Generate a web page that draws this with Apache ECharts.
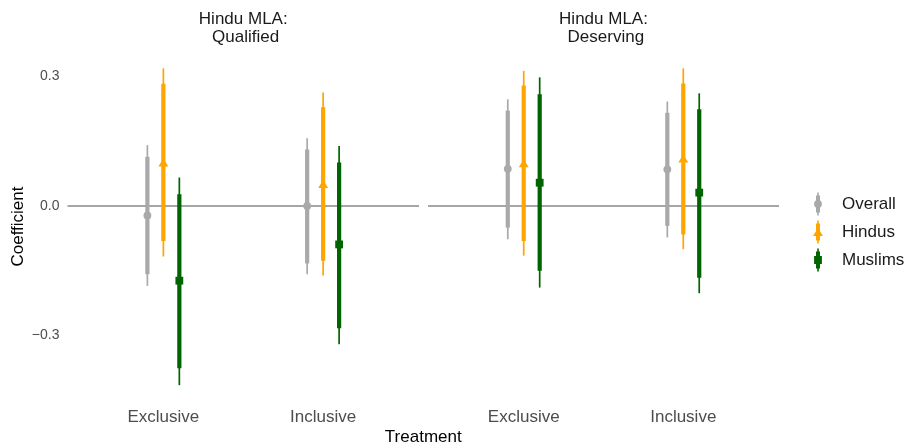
<!DOCTYPE html>
<html>
<head>
<meta charset="utf-8">
<script src="https://cdn.jsdelivr.net/npm/echarts@6/dist/echarts.min.js"></script>
<style>
  html, body { margin: 0; padding: 0; background: #ffffff; }
  #chart { width: 907px; height: 446px; }
</style>
</head>
<body>
<div id="chart"></div>
<script>
// Treatment categories on each panel's x axis
const categories = ['Exclusive', 'Inclusive'];
// Facet strip labels
const panelTitles = ['Hindu MLA:\n Qualified', 'Hindu MLA:\n Deserving'];
const seriesNames = ['Overall', 'Hindus', 'Muslims'];

// Each row: [estimate, low90, high90, low95, high95]
// Rows: Qualified/Exclusive, Qualified/Inclusive, Deserving/Exclusive, Deserving/Inclusive
const overall = [
  [-0.022, -0.158, 0.114, -0.185, 0.141],
  [ 0.000, -0.133, 0.131, -0.158, 0.157],
  [ 0.086, -0.050, 0.221, -0.077, 0.247],
  [ 0.085, -0.046, 0.216, -0.073, 0.242]
];
const hindus = [
  [ 0.101, -0.081, 0.283, -0.117, 0.319],
  [ 0.051, -0.127, 0.229, -0.161, 0.263],
  [ 0.099, -0.081, 0.279, -0.115, 0.313],
  [ 0.110, -0.066, 0.284, -0.100, 0.319]
];
const muslims = [
  [-0.173, -0.376, 0.027, -0.415, 0.066],
  [-0.089, -0.283, 0.101, -0.320, 0.139],
  [ 0.054, -0.150, 0.259, -0.189, 0.298],
  [ 0.031, -0.166, 0.224, -0.202, 0.261]
];

const yTickValues = [-0.3, 0, 0.3];
const yTickLabels = ['\u22120.3', '0.0', '0.3'];

const FONT = '"Liberation Sans", Arial, Helvetica, sans-serif';
const colors = ['#a9a9a9', '#ffa500', '#006400'];
const dodge = [-0.1, 0, 0.1];
const markerKind = ['circle', 'triangle', 'square'];
const xMin = 0.4, xMax = 2.6;
const yMin = -0.4517, yMax = 0.3567;

const grids = [
  { left: 67.5, top: 52, width: 351.5, height: 349 },
  { left: 428, top: 52, width: 351, height: 349 }
];

const seriesData = [overall, hindus, muslims];

function makeRenderer(s) {
  return function (params, api) {
    const x = api.value(0) + dodge[s];
    const est = api.coord([x, api.value(1)]);
    const lo90 = api.coord([x, api.value(2)]);
    const hi90 = api.coord([x, api.value(3)]);
    const lo95 = api.coord([x, api.value(4)]);
    const hi95 = api.coord([x, api.value(5)]);
    const color = colors[s];
    const children = [
      { type: 'line', shape: { x1: lo95[0], y1: lo95[1], x2: hi95[0], y2: hi95[1] },
        style: { stroke: color, lineWidth: 1.7 } },
      { type: 'line', shape: { x1: lo90[0], y1: lo90[1], x2: hi90[0], y2: hi90[1] },
        style: { stroke: color, lineWidth: 4.2 } }
    ];
    const cx = est[0], cy = est[1];
    if (markerKind[s] === 'circle') {
      children.push({ type: 'circle', shape: { cx: cx, cy: cy, r: 3.9 }, style: { fill: color } });
    } else if (markerKind[s] === 'triangle') {
      children.push({ type: 'polygon',
        shape: { points: [[cx - 5, cy + 4], [cx, cy - 4], [cx + 5, cy + 4]] },
        style: { fill: color } });
    } else {
      children.push({ type: 'rect', shape: { x: cx - 3.9, y: cy - 3.9, width: 7.8, height: 7.8 },
        style: { fill: color } });
    }
    return { type: 'group', children: children };
  };
}

const series = [];
for (let p = 0; p < 2; p++) {
  // horizontal reference line at zero
  series.push({
    type: 'line',
    xAxisIndex: p, yAxisIndex: p,
    data: [[xMin, 0], [xMax, 0]],
    symbol: 'none', silent: true, z: 1,
    lineStyle: { color: '#888888', width: 1.7 }
  });
  for (let s = 0; s < 3; s++) {
    const rows = seriesData[s];
    const data = [];
    for (let c = 0; c < categories.length; c++) {
      data.push([c + 1].concat(rows[p * 2 + c]));
    }
    series.push({
      type: 'custom',
      name: seriesNames[s],
      xAxisIndex: p, yAxisIndex: p,
      z: 3,
      itemStyle: { color: colors[s] },
      renderItem: makeRenderer(s),
      encode: { x: 0, y: [1, 2, 3, 4, 5] },
      data: data
    });
  }
}

// Legend keys: thin 95% bar, thick 90% bar and the series marker
const legendIcons = [
  'path://M4.2,0h1.6v23h-1.6Z M3,3h4v17h-4Z M1.1,11.5A3.9,3.9,0,1,1,8.9,11.5A3.9,3.9,0,1,1,1.1,11.5Z',
  'path://M4.2,0h1.6v23h-1.6Z M3,3h4v17h-4Z M0,15.5L5,7.5L10,15.5Z',
  'path://M4.2,0h1.6v23h-1.6Z M3,3h4v17h-4Z M1.1,7.6h7.8v7.8h-7.8Z'
];

const xAxes = grids.map(function (g, i) {
  return {
    type: 'value', gridIndex: i, min: xMin, max: xMax,
    axisLine: { show: false }, axisTick: { show: false }, splitLine: { show: false },
    axisLabel: {
      customValues: categories.map(function (c, k) { return k + 1; }),
      formatter: function (v) { return categories[Math.round(v) - 1] || ''; },
      fontSize: 17, color: '#4d4d4d', fontFamily: FONT, margin: 8
    }
  };
});

const yAxes = grids.map(function (g, i) {
  return {
    type: 'value', gridIndex: i, min: yMin, max: yMax,
    axisLine: { show: false }, axisTick: { show: false }, splitLine: { show: false },
    axisLabel: {
      show: i === 0,
      customValues: yTickValues,
      formatter: function (v) {
        const k = yTickValues.findIndex(function (t) { return Math.abs(t - v) < 1e-9; });
        return k >= 0 ? yTickLabels[k] : '';
      },
      fontSize: 14, color: '#4d4d4d', fontFamily: FONT, margin: 8
    }
  };
});

const option = {
  backgroundColor: '#ffffff',
  animation: false,
  grid: grids,
  xAxis: xAxes,
  yAxis: yAxes,
  legend: {
    orient: 'vertical',
    left: 813, top: 192.5,
    padding: 0,
    itemGap: 5,
    itemWidth: 10, itemHeight: 23,
    data: seriesNames.map(function (n, i) { return { name: n, icon: legendIcons[i] }; }),
    textStyle: { fontSize: 17, color: '#1a1a1a', fontFamily: FONT, padding: [0, 0, 0, 14] }
  },
  graphic: [
    { type: 'text', x: (grids[0].left + grids[0].left + grids[0].width) / 2, y: 28,
      style: { text: panelTitles[0], align: 'center', verticalAlign: 'middle',
        fontSize: 17, lineHeight: 18, fontFamily: FONT, fill: '#1a1a1a' } },
    { type: 'text', x: (grids[1].left + grids[1].left + grids[1].width) / 2, y: 28,
      style: { text: panelTitles[1], align: 'center', verticalAlign: 'middle',
        fontSize: 17, lineHeight: 18, fontFamily: FONT, fill: '#1a1a1a' } },
    { type: 'text', x: (grids[0].left + grids[1].left + grids[1].width) / 2, y: 437,
      style: { text: 'Treatment', align: 'center', verticalAlign: 'middle',
        fontSize: 17, fontFamily: FONT, fill: '#000000' } },
    { type: 'text', x: 18, y: 226.5, rotation: Math.PI / 2,
      style: { text: 'Coefficient', align: 'center', verticalAlign: 'middle',
        fontSize: 17, fontFamily: FONT, fill: '#000000' } }
  ],
  series: series
};

const chart = echarts.init(document.getElementById('chart'), null, { renderer: 'canvas' });
chart.setOption(option);
</script>
</body>
</html>
